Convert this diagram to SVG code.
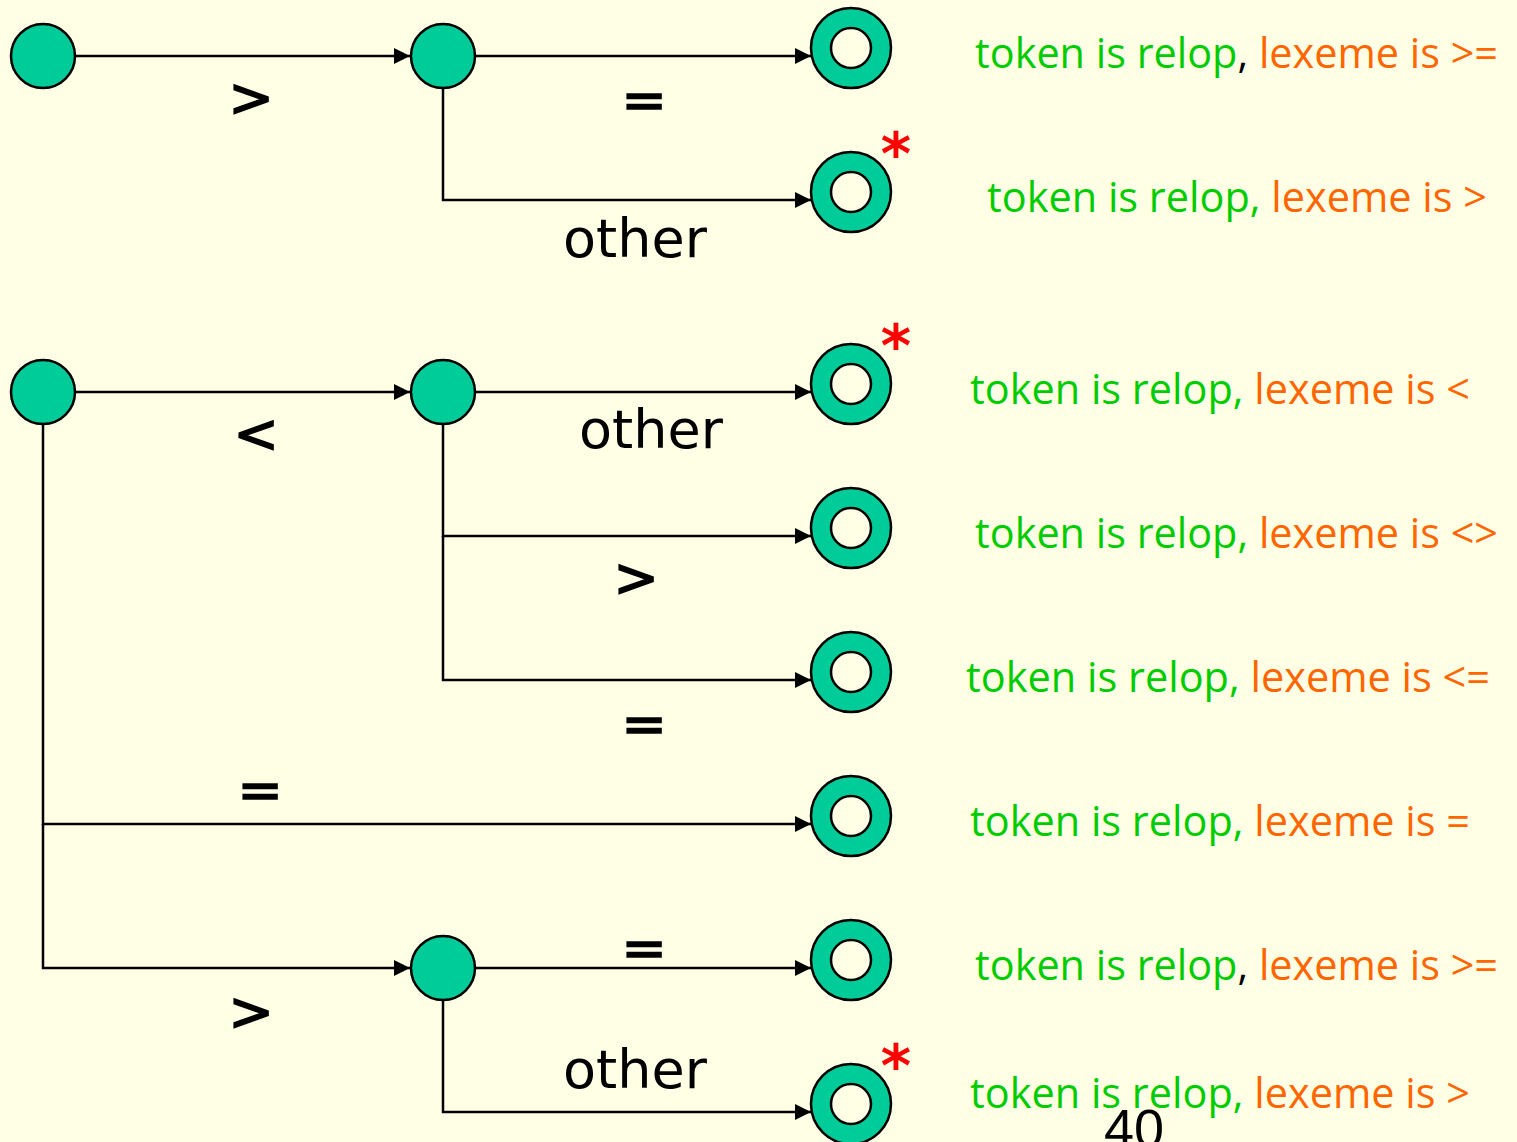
<svg xmlns="http://www.w3.org/2000/svg" width="1517" height="1142" viewBox="0 0 1517 1142">
<style>
.st{fill:#00CC99;stroke:#000;stroke-width:2.5}
.in{fill:#FFFFE6;stroke:#000;stroke-width:2.5}
.ln{fill:none;stroke:#000;stroke-width:2.5}
.lb{font-family:"DejaVu Sans",sans-serif;font-size:54px;fill:#000;text-anchor:middle}
.sym{stroke:#000;stroke-width:1.6}
.ast{font-family:"DejaVu Sans",sans-serif;font-size:58px;font-weight:bold;fill:#FF0000;text-anchor:middle}
.tx{font-family:"Open Sans","Noto Sans",sans-serif;font-size:42px}
.g{fill:#00CC00}
.o{fill:#FF6600}
.k{fill:#000}
</style>
<defs>
<marker id="ah" viewBox="0 0 10 10" refX="10" refY="5" markerWidth="16" markerHeight="16" markerUnits="userSpaceOnUse" orient="auto">
<path d="M0,0 L10,5 L0,10 z" fill="#000"/>
</marker>
</defs>
<rect x="0" y="0" width="1517" height="1142" fill="#FFFFE6"/>
<g id="connectors">
<line class="ln" x1="75" y1="56" x2="410" y2="56" marker-end="url(#ah)"/>
<line class="ln" x1="475" y1="56" x2="811" y2="56" marker-end="url(#ah)"/>
<polyline class="ln" points="443,88 443,200 811,200" marker-end="url(#ah)"/>
<line class="ln" x1="75" y1="392" x2="410" y2="392" marker-end="url(#ah)"/>
<line class="ln" x1="475" y1="392" x2="811" y2="392" marker-end="url(#ah)"/>
<polyline class="ln" points="443,424 443,536 811,536" marker-end="url(#ah)"/>
<polyline class="ln" points="443,536 443,680 811,680" marker-end="url(#ah)"/>
<polyline class="ln" points="43,424 43,824 811,824" marker-end="url(#ah)"/>
<polyline class="ln" points="43,824 43,968 410,968" marker-end="url(#ah)"/>
<line class="ln" x1="475" y1="968" x2="811" y2="968" marker-end="url(#ah)"/>
<polyline class="ln" points="443,1000 443,1112 811,1112" marker-end="url(#ah)"/>
<text class="lb sym" x="251" y="116">&gt;</text>
<text class="lb sym" x="644" y="118">=</text>
<text class="lb" x="635" y="257">other</text>
<text class="lb sym" x="256" y="452">&lt;</text>
<text class="lb" x="651" y="448">other</text>
<text class="lb sym" x="636" y="596">&gt;</text>
<text class="lb sym" x="644" y="742">=</text>
<text class="lb sym" x="260" y="808">=</text>
<text class="lb sym" x="644" y="966">=</text>
<text class="lb sym" x="251" y="1030">&gt;</text>
<text class="lb" x="635" y="1088">other</text>
</g>
<g id="s0"><circle class="st" cx="43" cy="56" r="32"/></g>
<g id="s1"><circle class="st" cx="443" cy="56" r="32"/></g>
<g id="s2"><circle class="st" cx="851" cy="48" r="40"/><circle class="in" cx="851" cy="48" r="20"/></g>
<g id="s3"><circle class="st" cx="851" cy="192" r="40"/><circle class="in" cx="851" cy="192" r="20"/><text class="ast" x="896" y="174">*</text></g>
<g id="s4"><circle class="st" cx="43" cy="392" r="32"/></g>
<g id="s5"><circle class="st" cx="443" cy="392" r="32"/></g>
<g id="s6"><circle class="st" cx="851" cy="384" r="40"/><circle class="in" cx="851" cy="384" r="20"/><text class="ast" x="896" y="366">*</text></g>
<g id="s7"><circle class="st" cx="851" cy="528" r="40"/><circle class="in" cx="851" cy="528" r="20"/></g>
<g id="s8"><circle class="st" cx="851" cy="672" r="40"/><circle class="in" cx="851" cy="672" r="20"/></g>
<g id="s9"><circle class="st" cx="851" cy="816" r="40"/><circle class="in" cx="851" cy="816" r="20"/></g>
<g id="s10"><circle class="st" cx="443" cy="968" r="32"/></g>
<g id="s11"><circle class="st" cx="851" cy="960" r="40"/><circle class="in" cx="851" cy="960" r="20"/></g>
<g id="s12"><circle class="st" cx="851" cy="1104" r="40"/><circle class="in" cx="851" cy="1104" r="20"/><text class="ast" x="896" y="1086">*</text></g>
<g id="labels">
<text class="tx" x="975" y="68" textLength="523" lengthAdjust="spacingAndGlyphs"><tspan class="g">token is relop</tspan><tspan class="k">, </tspan><tspan class="o">lexeme is &gt;=</tspan></text>
<text class="tx" x="987" y="212" textLength="500" lengthAdjust="spacingAndGlyphs"><tspan class="g">token is relop, </tspan><tspan class="o">lexeme is &gt;</tspan></text>
<text class="tx" x="970" y="404" textLength="500" lengthAdjust="spacingAndGlyphs"><tspan class="g">token is relop, </tspan><tspan class="o">lexeme is &lt;</tspan></text>
<text class="tx" x="975" y="548" textLength="523" lengthAdjust="spacingAndGlyphs"><tspan class="g">token is relop, </tspan><tspan class="o">lexeme is &lt;&gt;</tspan></text>
<text class="tx" x="966" y="692" textLength="524" lengthAdjust="spacingAndGlyphs"><tspan class="g">token is relop, </tspan><tspan class="o">lexeme is &lt;=</tspan></text>
<text class="tx" x="970" y="836" textLength="500" lengthAdjust="spacingAndGlyphs"><tspan class="g">token is relop, </tspan><tspan class="o">lexeme is =</tspan></text>
<text class="tx" x="975" y="980" textLength="523" lengthAdjust="spacingAndGlyphs"><tspan class="g">token is relop</tspan><tspan class="k">, </tspan><tspan class="o">lexeme is &gt;=</tspan></text>
<text class="tx" x="970" y="1108" textLength="500" lengthAdjust="spacingAndGlyphs"><tspan class="g">token is relop, </tspan><tspan class="o">lexeme is &gt;</tspan></text>
<text x="1134" y="1147" font-family="Liberation Sans, sans-serif" font-size="54" text-anchor="middle" fill="#000">40</text>
</g>
</svg>
